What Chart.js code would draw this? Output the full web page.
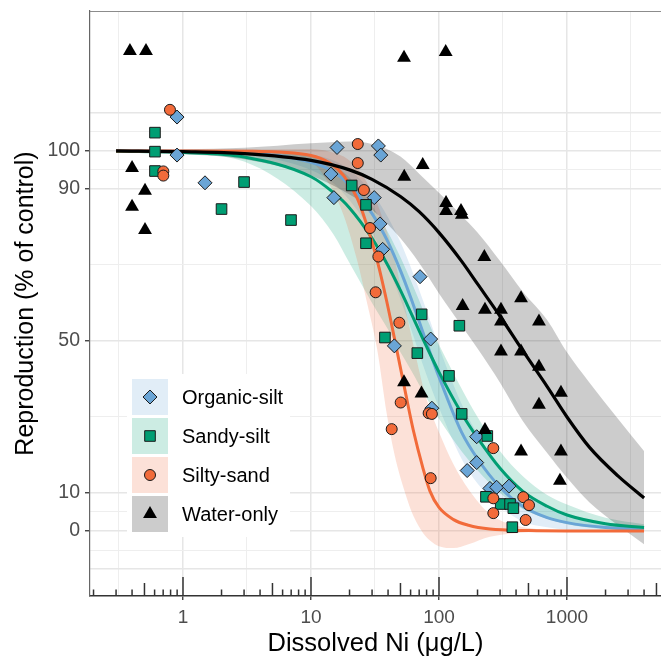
<!DOCTYPE html>
<html><head><meta charset="utf-8">
<script src="https://cdn.jsdelivr.net/npm/chart.js@4.4.1/dist/chart.umd.min.js"></script>
<style>html,body{margin:0;padding:0;background:#fff;}#wrap{width:661px;height:661px;}</style>
</head><body><div id="wrap"><canvas id="c" width="661" height="661"></canvas></div>
<script>
// ---------------- DATA ----------------
const seriesNames = ['Organic-silt', 'Sandy-silt', 'Silty-sand', 'Water-only'];

// observed points (Dissolved Ni, reproduction % of control)
const organicX = [0.898, 0.898, 1.486, 15.97, 33.6, 35.1, 14.3, 15.1, 31.2, 34.6, 36.3, 71.1, 44.8, 86.1, 88, 196.9, 197, 166, 250, 282, 352];
const organicY = [108.9, 98.9, 91.6, 100.9, 101.3, 98.9, 93.9, 87.7, 87.7, 80.8, 74.1, 66.9, 48.7, 50.5, 32.3, 24.8, 18, 15.9, 11.2, 11.5, 11.8];

const sandyX = [0.604, 0.604, 0.604, 3.0, 2.0, 6.98, 20.8, 26.9, 26.9, 73.2, 144.2, 37.8, 67.7, 119.7, 150.4, 238.4, 232.8, 303.4, 359, 381, 374];
const sandyY = [104.8, 99.8, 94.7, 91.8, 84.7, 81.8, 90.9, 85.8, 75.7, 57.0, 54.0, 50.9, 46.8, 40.8, 30.8, 25.0, 9.0, 7.1, 7.1, 6.0, 1.0];

const siltyX = [0.791, 0.702, 0.702, 23.2, 23.2, 25.9, 28.9, 33.6, 32.0, 49.0, 50.2, 42.7, 83, 88, 86.1, 265.7, 265.7, 265.7, 455.7, 504.9, 475.7];
const siltyY = [110.8, 94.6, 93.5, 101.8, 96.8, 89.7, 79.7, 72.2, 62.8, 54.8, 33.8, 26.8, 31.0, 30.8, 13.9, 21.8, 8.6, 4.7, 8.9, 6.8, 2.9];

const waterX = [0.385, 0.514, 0.40, 0.505, 0.40, 0.505, 53.3, 112.8, 74.6, 53.5, 113.5, 113.5, 148.6, 151, 226, 437.5, 153, 228.6, 305, 305, 604, 305, 437.5, 604, 897, 604, 228.6, 437.5, 897, 881, 53.3, 73];
const waterY = [126.3, 126.3, 95.5, 89.5, 85.3, 79.2, 124.5, 126, 96.3, 93.2, 86.3, 84.2, 84.2, 83.2, 72.1, 61.2, 59.2, 58.2, 58.2, 55.1, 55.1, 47.2, 47.2, 43.2, 36.4, 33.2, 26.6, 20.9, 20.9, 13.2, 39.1, 36.2];

// fitted curves and confidence bands
const organicCurveX = [0.3, 1, 3, 10, 15, 20, 30, 40, 50, 60, 80, 100, 150, 200, 300, 450, 700, 1000, 2000, 4000];
const organicFit = [100, 99.9, 99.6, 97, 94.5, 91, 83.5, 76, 68.5, 61.5, 49.5, 40.5, 26, 19, 11.5, 6.5, 3.5, 2.2, 0.9, 0.4];
const organicLow = [99.8, 99.5, 99, 95, 91.5, 87, 78.5, 69.5, 61, 53.5, 41, 32.5, 19, 12.5, 6.5, 2.5, 1, 0.3, 0, 0];
const organicUp = [100.2, 100.3, 100.3, 99, 97.5, 95, 89, 82.5, 76, 69.5, 58, 48.5, 33.5, 25.5, 16.5, 10.5, 6.5, 4.5, 2, 1];

const sandyCurveX = [0.3, 1, 3, 10, 15, 20, 30, 40, 50, 60, 80, 100, 150, 200, 300, 450, 700, 1000, 2000, 4000];
const sandyFit = [99.9, 99.6, 98.4, 93.2, 89, 85, 77, 69.8, 63.3, 57.6, 48.5, 41.8, 31, 24.5, 16.5, 10.5, 6.5, 4.2, 1.9, 0.9];
const sandyLow = [99.7, 99.2, 97.2, 85.5, 78, 70.5, 60, 53, 47, 42.5, 35, 29.5, 21, 16, 10, 5.8, 3.2, 1.8, 0.5, 0];
const sandyUp = [100.1, 100.2, 100.2, 98.5, 96, 93, 85.5, 78.5, 72, 66, 56, 49, 37.5, 30, 21, 14.5, 9.5, 7, 3.5, 1.8];

const siltyCurveX = [0.3, 1, 3, 10, 14, 18, 23, 27, 33, 39, 45, 55, 63, 75, 85, 100, 130, 170, 250, 500, 1000, 4000];
const siltyFit = [100, 100, 99.9, 98.8, 96.8, 93.5, 87.5, 81, 71, 60.5, 50.5, 36, 26.5, 16.5, 10.5, 6.2, 3.0, 1.5, 0.5, 0.1, 0, 0];
const siltyLow = [99.8, 99.7, 99.5, 97, 91, 83, 71, 61, 47.5, 31, 20, 9.5, 4, -0.5, -2.5, -4, -4.5, -3.5, -1.5, -0.3, 0, 0];
const siltyUp = [100.2, 100.3, 100.4, 100.5, 99.8, 98.5, 95.5, 92, 86, 79, 71.5, 58, 49, 38, 32, 26, 17.5, 11, 4.5, 0.8, 0.2, 0];

const waterCurveX = [0.3, 1, 3, 10, 20, 30, 50, 70, 100, 150, 200, 300, 450, 700, 1000, 1500, 2500, 4000];
const waterFit = [100, 99.8, 99.3, 97.5, 95, 92.5, 88, 84, 78.5, 71, 65, 56.5, 47.5, 38, 30, 22, 14.5, 8.7];
const waterLow = [99.8, 99.2, 97.8, 93.5, 88.5, 84.5, 77, 70.5, 62.5, 54, 48, 39, 29, 20.5, 14, 7.5, 1.5, -3.5];
const waterUp = [100.2, 100.4, 100.8, 102, 102.5, 101.8, 98.5, 94, 89, 83, 78.5, 71, 63, 55.5, 47, 39, 29.5, 21];

// axis ticks
const xGridVals = [0.3162, 1, 3.162, 10, 31.62, 100, 316.2, 1000, 3162];
const xTickLabels = ['', '1', '', '10', '', '100', '', '1000', ''];
const yGridVals = [-10, -5, 0, 5, 10, 30, 50, 70, 90, 95, 100, 105, 110];
const yTickLabels = ['', '', '0', '', '10', '', '50', '', '90', '', '100', '', ''];
const yMajorVals = [-10, 0, 10, 50, 90, 100, 110];

// ---------------- STYLE ----------------
const COL = ['#6aa5d6', '#009e73', '#f26b3a', '#000000'];
const BAND = ['rgba(106,165,214,0.2)', 'rgba(0,158,115,0.2)', 'rgba(242,107,58,0.2)', 'rgba(0,0,0,0.2)'];
const SHAPE = ['rectRot', 'rect', 'circle', 'triangle'];
const RAD = [7, 7.5, 5.5, 8];
const FONT = "'Liberation Sans', Arial, sans-serif";

const pts = (xs, ys) => xs.map((x, i) => ({x: x, y: ys[i]}));

const curves = [
  [organicCurveX, organicFit, organicLow, organicUp],
  [sandyCurveX, sandyFit, sandyLow, sandyUp],
  [siltyCurveX, siltyFit, siltyLow, siltyUp],
  [waterCurveX, waterFit, waterLow, waterUp]
];
const obs = [[organicX, organicY], [sandyX, sandyY], [siltyX, siltyY], [waterX, waterY]];

const datasets = [];
curves.forEach((c, i) => {
  const upIdx = datasets.length;
  datasets.push({data: pts(c[0], c[3]), showLine: true, borderWidth: 0, borderColor: 'rgba(0,0,0,0)',
    pointRadius: 0, fill: false, cubicInterpolationMode: 'monotone', order: 40 - i});
  datasets.push({data: pts(c[0], c[2]), showLine: true, borderWidth: 0, borderColor: 'rgba(0,0,0,0)',
    pointRadius: 0, fill: {target: upIdx}, backgroundColor: BAND[i], cubicInterpolationMode: 'monotone', order: 40 - i});
});
curves.forEach((c, i) => {
  datasets.push({data: pts(c[0], c[1]), showLine: true, borderWidth: i === 3 ? 3.2 : 3, borderColor: COL[i],
    pointRadius: 0, fill: false, cubicInterpolationMode: 'monotone', order: 30 - i});
});
obs.forEach((o, i) => {
  datasets.push({label: seriesNames[i], data: pts(o[0], o[1]), showLine: false, pointStyle: SHAPE[i],
    pointRadius: RAD[i], backgroundColor: COL[i], borderColor: i === 3 ? '#000' : '#1a1a1a',
    borderWidth: i === 3 ? 0 : 1, order: 10 - i});
});

const yMajorSet = new Set(yMajorVals);
const isDecade = v => Math.abs(Math.log10(v) - Math.round(Math.log10(v))) < 1e-6;

const ggPlugin = {
  id: 'gg',
  afterDraw(chart) {
    const ctx = chart.ctx, a = chart.chartArea, xs = chart.scales.x;
    ctx.save();
    ctx.strokeStyle = '#8c8c8c'; ctx.lineWidth = 1;
    ctx.beginPath(); ctx.moveTo(a.left, a.top + 0.5); ctx.lineTo(a.right, a.top + 0.5); ctx.stroke();
    ctx.strokeStyle = '#333'; ctx.lineWidth = 1.5;
    for (let e = -1; e <= 3; e++) {
      for (let m = 1; m <= 9; m++) {
        const v = m * Math.pow(10, e);
        if (v < xs.min || v > xs.max) continue;
        const px = xs.getPixelForValue(v);
        const len = m === 1 ? 19 : (m === 5 ? 13 : 6.5);
        ctx.beginPath(); ctx.moveTo(px, a.bottom); ctx.lineTo(px, a.bottom - len); ctx.stroke();
      }
    }
    const lx = a.left + 42, ly = a.top + 368, kw = 36, kh = 36, gap = 3;
    ctx.fillStyle = '#ffffff';
    ctx.fillRect(lx - 5, ly - 5, 163, 4 * kh + 3 * gap + 10);
    seriesNames.forEach((name, i) => {
      const ky = ly + i * (kh + gap);
      ctx.fillStyle = '#ffffff'; ctx.fillRect(lx, ky, kw, kh);
      ctx.fillStyle = BAND[i]; ctx.fillRect(lx, ky, kw, kh);
      ctx.fillStyle = COL[i];
      ctx.strokeStyle = i === 3 ? '#000' : '#1a1a1a';
      ctx.lineWidth = i === 3 ? 0 : 1;
      Chart.helpers.drawPoint(ctx, {pointStyle: SHAPE[i], radius: RAD[i], rotation: 0, borderWidth: i === 3 ? 0 : 1}, lx + kw / 2, ky + kh / 2);
      ctx.fillStyle = '#000';
      ctx.font = '20px ' + FONT;
      ctx.textAlign = 'left'; ctx.textBaseline = 'middle';
      ctx.fillText(name, lx + kw + 14, ky + kh / 2 + 1);
    });
    ctx.restore();
  }
};

new Chart(document.getElementById('c'), {
  type: 'scatter',
  data: {datasets: datasets},
  plugins: [ggPlugin],
  options: {
    responsive: false, animation: false, devicePixelRatio: 1, events: [],
    layout: {autoPadding: false, padding: {top: 11, right: 0, left: 0, bottom: 0}},
    plugins: {legend: {display: false}, tooltip: {enabled: false}},
    scales: {
      x: {
        type: 'logarithmic', min: 0.1877, max: 5425,
        afterFit: s => { s.height = 65; s.paddingLeft = 0; s.paddingRight = 0; },
        afterBuildTicks: s => { s.ticks = xGridVals.map(v => ({value: v})); },
        ticks: {autoSkip: false, maxRotation: 0, padding: 6, color: '#4d4d4d',
          font: {family: FONT, size: 19}, callback: (v, i) => xTickLabels[i]},
        grid: {color: c => (c.tick && isDecade(c.tick.value)) ? '#e6e6e6' : '#eeeeee',
          lineWidth: c => (c.tick && isDecade(c.tick.value)) ? 1.5 : 1,
          tickLength: 4, tickWidth: 1.3,
          tickColor: c => (c.tick && isDecade(c.tick.value)) ? '#333' : 'rgba(0,0,0,0)'},
        border: {display: true, color: '#333', width: 1.4},
        title: {display: true, text: 'Dissolved Ni (μg/L)', color: '#000',
          font: {family: FONT, size: 25.5}, padding: {top: 0, bottom: 2}}
      },
      y: {
        type: 'linear', min: -17.1, max: 136.8,
        afterFit: s => { s.width = 90; s.paddingTop = 0; s.paddingBottom = 0; },
        afterBuildTicks: s => { s.ticks = yGridVals.map(v => ({value: v})); },
        ticks: {autoSkip: false, padding: 5, color: '#4d4d4d',
          font: {family: FONT, size: 19.5}, callback: (v, i) => yTickLabels[i]},
        grid: {color: c => (c.tick && yMajorSet.has(c.tick.value)) ? '#e6e6e6' : '#eeeeee',
          lineWidth: c => (c.tick && yMajorSet.has(c.tick.value)) ? 1.5 : 1,
          tickLength: 5, tickWidth: 1.3,
          tickColor: c => (c.tick && yTickLabels[c.index] !== '') ? '#333' : 'rgba(0,0,0,0)'},
        border: {display: true, color: '#666', width: 1.2},
        title: {display: true, text: 'Reproduction (% of control)', color: '#000',
          font: {family: FONT, size: 25}, padding: {top: 11, bottom: 0}}
      }
    }
  }
});
</script></body></html>
